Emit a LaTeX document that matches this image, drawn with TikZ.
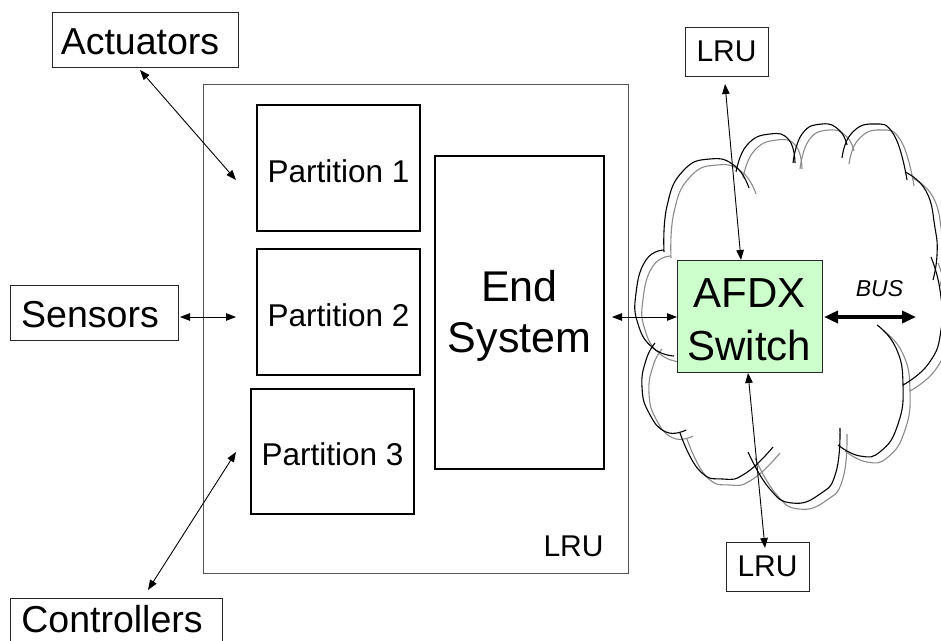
\documentclass[tikz,border=0pt]{standalone}
\usepackage{fontspec}
\setmainfont{Liberation Sans}
\usetikzlibrary{arrows.meta}

\definecolor{switchgreen}{HTML}{CCFFCC}
\definecolor{framegray}{HTML}{555555}
\definecolor{cloudgray}{HTML}{8A8A8A}

\tikzset{
  every node/.style={inner sep=0pt, outer sep=0pt},
  plainbox/.style={draw=black!85, line width=1pt, align=center},
  partbox/.style={draw=black, line width=2.6pt, align=center,
    minimum width=163pt, minimum height=126pt, text height=28.6pt,
    font=\fontsize{31.5}{36}\selectfont},
  lrubox/.style={plainbox, minimum width=83pt, minimum height=49pt,
    font=\fontsize{30}{34}\selectfont},
  sidetext/.style={font=\fontsize{37.5}{42}\selectfont},
  link/.style={line width=0.9pt, {Triangle[length=10pt,width=7.5pt]}-{Triangle[length=10pt,width=7.5pt]}},
  buslink/.style={line width=3.6pt, {Triangle[length=14pt,width=12pt]}-{Triangle[length=14pt,width=12pt]}},
  puff/.style={line width=1.1pt, smooth, tension=0.85},
}

\begin{document}
\begin{tikzpicture}[x=1pt, y=-1pt]
\useasboundingbox (0,0) rectangle (941,640);
\clip (0,0) rectangle (941,640);

% network cloud: an outline of puffs, with a grey echo behind it
\foreach \dx/\dy/\col in {7/6/cloudgray, 0/0/black} {
  \begin{scope}[shift={(\dx,\dy)}, draw=\col]
    \draw[puff] plot coordinates {(664,252) (667,206) (683,171) (710,159) (735,166) (749,188)};
    \draw[puff] plot coordinates {(736,172) (747,145) (770,134) (789,140) (795,163)};
    \draw[puff] plot coordinates {(793,163) (802,134) (822,124) (839,130) (847,145)};
    \draw[puff] plot coordinates {(842,158) (851,134) (873,124) (894,135) (907,180)};
    \draw[puff] plot coordinates {(905,172) (926,191) (935,228) (937,255) (933,280)};
    \draw[puff] plot coordinates {(931,257) (940,290) (941,330) (929,363) (903,385)};
    \draw[puff] plot coordinates {(877,325) (896,348) (903,385) (898,424) (881,451) (860,456) (838,445)};
    \draw[puff] plot coordinates {(840,428) (836,472) (820,494) (792,503) (769,488) (748,452)};
    \draw[puff] plot coordinates {(773,447) (746,473) (723,479) (699,470) (680,433)};
    \draw[puff] plot coordinates {(686,430) (666,432) (649,413) (642,387) (646,360) (655,343)};
    \draw[puff] plot coordinates {(664,250) (646,260) (636,293) (638,324) (653,348) (674,356)};
  \end{scope}
}

% the LRU that hosts the partitions
\node[draw=framegray, line width=1pt, minimum width=425pt, minimum height=489pt]
  (host) at (415.5,328.5) {};
\node[font=\fontsize{30}{34}\selectfont] (hostlabel) at (573.5,546) {LRU};

\node[partbox] (p1) at (338.5,168) {Partition 1};
\node[partbox] (p2) at (338.5,312) {Partition 2};
\node[partbox, minimum height=125pt] (p3) at (332.5,451.5) {Partition 3};

\node[draw=black, line width=2.6pt, minimum width=169pt, minimum height=313pt,
      align=center, font=\fontsize{43}{51}\selectfont]
  (es) at (519.5,312.5) {\rule{0pt}{37pt}End\\System};

% peripherals: frames, then their captions
\node[plainbox, minimum width=186pt, minimum height=55pt] (act) at (145,39.5) {};
\node[sidetext] (actlabel) at (140,42) {Actuators};
\node[plainbox, minimum width=168pt, minimum height=55pt] (sen) at (94,312.5) {};
\node[sidetext] (senlabel) at (90,314.5) {Sensors};
\node[plainbox, minimum width=212pt, minimum height=46pt] (ctl) at (116,621) {};
\node[sidetext] (ctllabel) at (112,619) {Controllers};

% switch and neighbouring LRUs
\node[draw=black!85, line width=1pt, fill=switchgreen, minimum width=145pt,
      minimum height=112pt, align=center, font=\fontsize{42}{53}\selectfont]
  (sw) at (749.5,316) {\rule{0pt}{36pt}AFDX\\Switch};
\node[lrubox] (lruA) at (726.5,51.5) {LRU};
\node[lrubox] (lruB) at (767.5,566.5) {LRU};
\node[font=\itshape\fontsize{23}{26}\selectfont] (bus) at (879.5,289) {BUS};

% free arrow ends
\coordinate (actEnd) at (140,70);
\coordinate (p1In) at (236,180);
\coordinate (senIn) at (236,317);
\coordinate (ctlEnd) at (148,590);
\coordinate (p3In) at (236,452);
\coordinate (esOut) at (612,317);
\coordinate (lruAEnd) at (725,84);
\coordinate (swTop) at (741,260);
\coordinate (swBot) at (748,373);
\coordinate (lruBEnd) at (765,548);
\coordinate (busEnd) at (916,317);

% connections
\draw[link] (actEnd) -- (p1In);
\draw[link] (sen.east) ++(2,4.5) coordinate (senOut) -- (senIn);
\draw[link] (ctlEnd) -- (p3In);
\draw[link] (esOut) -- (sw.west |- esOut);
\draw[link] (lruAEnd) -- (swTop);
\draw[link] (swBot) -- (lruBEnd);
\draw[buslink] (sw.east |- busEnd) ++(2,0) -- (busEnd);
\end{tikzpicture}
\end{document}
